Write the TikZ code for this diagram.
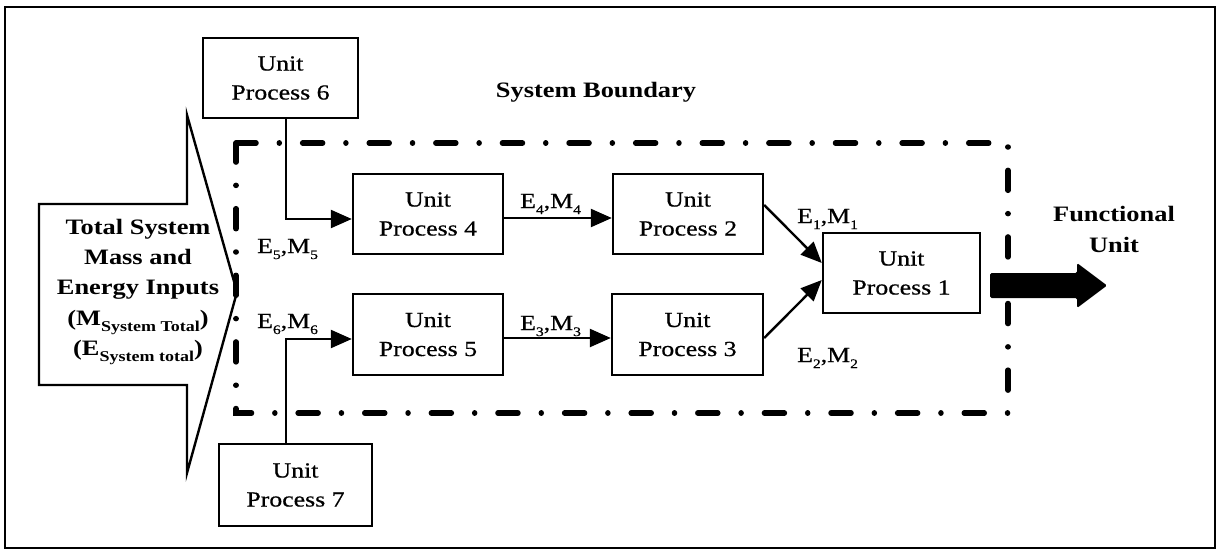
\documentclass[tikz,border=0pt]{standalone}
\usepackage{fontspec}
\setmainfont{Liberation Serif}[FakeStretch=1.2]
% slightly heavier upright face for box texts and flow labels
\newfontfamily\heavyserif{Liberation Serif}[FakeStretch=1.2, FakeBold=0.6]
\usetikzlibrary{arrows.meta,calc}
% lowered small text used for subscripts
\newcommand\lowtxt[2][13]{\raisebox{-0.28em}{\fontsize{#1}{#1}\selectfont #2}}

\begin{document}
\begin{tikzpicture}[x=1pt,y=-1pt,
  unitbox/.style={draw, line width=2.4pt, minimum width=150pt, minimum height=80pt,
    align=center, inner sep=0pt, font=\heavyserif\fontsize{21.5}{29}\selectfont},
  flow/.style={line width=2.4pt, -{Triangle[length=21pt,width=18pt]}},
  flowlabel/.style={font=\heavyserif\fontsize{21.5}{25}\selectfont, inner sep=0pt, anchor=base west},
  boldtext/.style={font=\bfseries\fontsize{22}{30.25}\selectfont, align=center, inner sep=0pt},
  boundary/.style={line width=5.5pt, line cap=round,
    dash pattern=on 20pt off 23.3pt on 0.01pt off 23.3pt},
]
\useasboundingbox (0,0) rectangle (1220,549);

% outer frame
\draw[line width=1.6pt] (5,7) rectangle (1215,548);

% system boundary
\draw[boundary] (236,143) -- (1008,143) -- (1008,413) -- (236,413) -- cycle;
\node[font=\bfseries\fontsize{22}{26}\selectfont, inner sep=0pt, anchor=base] (sb) at (596,97) {System Boundary};

% total system input arrow
\draw[line width=2.4pt, line join=miter]
  (39,204) -- (187,204) -- (187,115) -- (237,292) -- (187,473) -- (187,385) -- (39,385) -- cycle;
\node[boldtext] (inputs) at (138,292) {Total System\\Mass and\\Energy Inputs\\
  (M\lowtxt[15]{\bfseries System Total})\\(E\lowtxt[15]{\bfseries System total})};

% unit processes
\node[unitbox, minimum width=155pt] (up6) at (280.5,78) {Unit\\Process 6};
\node[unitbox, minimum width=153pt, minimum height=82pt] (up7) at (295.5,485) {Unit\\Process 7};
\node[unitbox] (up4) at (428,214) {Unit\\Process 4};
\node[unitbox, minimum height=81pt] (up5) at (428,334.5) {Unit\\Process 5};
\node[unitbox] (up2) at (688,214) {Unit\\Process 2};
\node[unitbox, minimum width=151pt, minimum height=81pt] (up3) at (687.5,334.5) {Unit\\Process 3};
\node[unitbox, minimum width=157pt] (up1) at (901.5,273) {Unit\\Process 1};

% flows between processes
\draw[flow] ([xshift=5.5pt]up6.south) |- ([yshift=-5pt]up4.west);
\draw[flow] ([xshift=-9.5pt]up7.north) |- ([yshift=-4.5pt]up5.west);
\draw[flow] ([yshift=-4pt]up4.east) -- ([yshift=-4pt]up2.west);
\draw[flow] ([yshift=-3.5pt]up5.east) -- ([yshift=-3.5pt]up3.west);
\draw[flow] ([yshift=9pt]up2.east) -- ([yshift=10pt]up1.west);
\draw[flow] ([yshift=-3.5pt]up3.east) -- ([yshift=-7pt]up1.west);

% flow labels
\node[flowlabel] (l5) at (257,253) {E\lowtxt{5},M\lowtxt{5}};
\node[flowlabel] (l6) at (257,328) {E\lowtxt{6},M\lowtxt{6}};
\node[flowlabel] (l4) at (520,208) {E\lowtxt{4},M\lowtxt{4}};
\node[flowlabel] (l3) at (520,330) {E\lowtxt{3},M\lowtxt{3}};
\node[flowlabel] (l1) at (797,223) {E\lowtxt{1},M\lowtxt{1}};
\node[flowlabel] (l2) at (797,362) {E\lowtxt{2},M\lowtxt{2}};

% functional unit output
\coordinate (out) at (990,285.5);
\fill[rounded corners=1.5pt] (out) ++(0,-12.5) -- ++(87,0) -- ++(0,-10) -- ++(30,22.5)
  -- ++(-30,22.5) -- ++(0,-10) -- ++(-87,0) -- cycle;
\node[boldtext] (fu) at (1114,229.5) {Functional\\Unit};
\end{tikzpicture}
\end{document}
